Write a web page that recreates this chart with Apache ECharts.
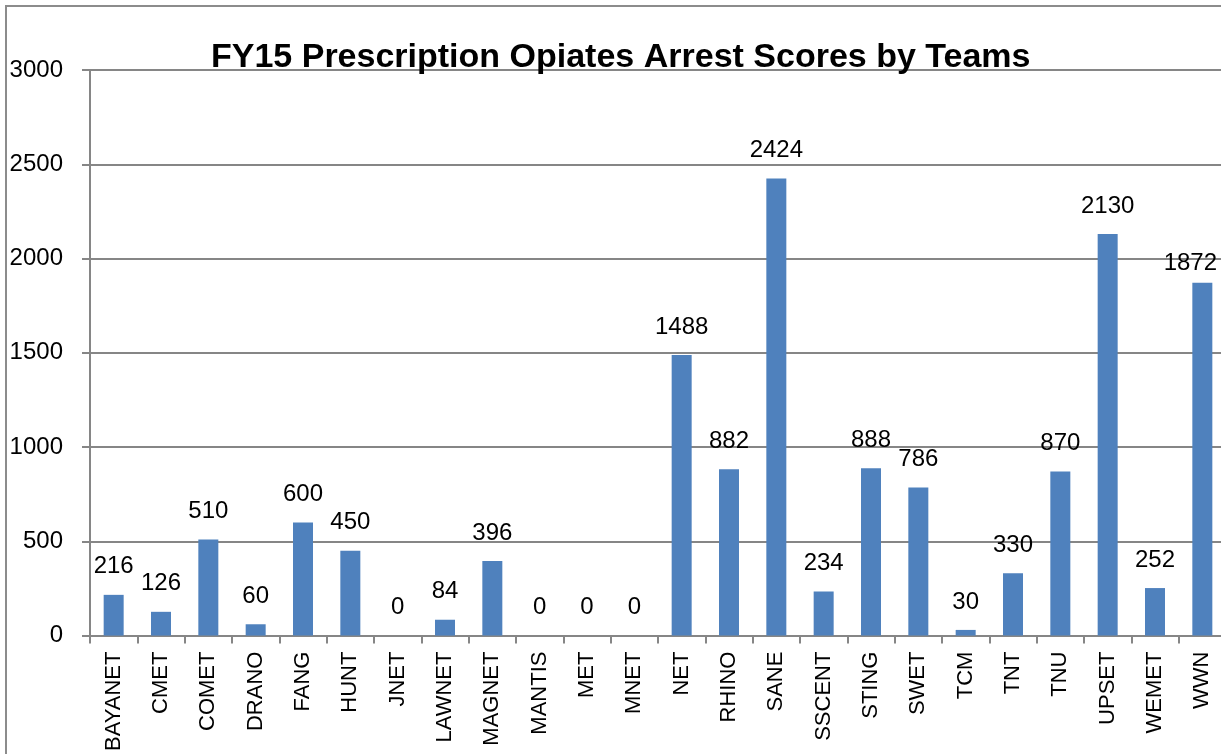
<!DOCTYPE html>
<html><head><meta charset="utf-8">
<script src="https://cdn.jsdelivr.net/npm/echarts@6/dist/echarts.min.js"></script>
<style>html,body{margin:0;padding:0;background:#fff;overflow:hidden;width:1221px;height:754px}#c{width:1240px;height:754px}</style>
</head><body><div id="c"></div>
<script>
const categories = ["BAYANET","CMET","COMET","DRANO","FANG","HUNT","JNET","LAWNET","MAGNET","MANTIS","MET","MNET","NET","RHINO","SANE","SSCENT","STING","SWET","TCM","TNT","TNU","UPSET","WEMET","WWN"];
const scores = [216,126,510,60,600,450,0,84,396,0,0,0,1488,882,2424,234,888,786,30,330,870,2130,252,1872];
const yTicks = [0,500,1000,1500,2000,2500,3000];
const titleText = "FY15 Prescription Opiates Arrest Scores by Teams";

const chart = echarts.init(document.getElementById('c'));
const font = "'Liberation Sans', Arial, sans-serif";
const barData = scores.map((v, i) => i === scores.length - 1
  ? { value: v, label: { offset: [-12, 9] } }
  : v);
chart.setOption({
  animation: false,
  backgroundColor: '#fff',
  title: {
    text: titleText, left: 206, top: 36,
    textStyle: { fontFamily: font, fontWeight: 'bold', fontSize: 34, color: '#000' }
  },
  graphic: [{
    type: 'polyline', silent: true,
    shape: { points: [[6, 760], [6, 6], [1250, 6]] },
    style: { stroke: '#8c8c8c', lineWidth: 2, fill: null }
  }],
  grid: { left: 90, top: 70, width: 1136, height: 566, containLabel: false },
  xAxis: {
    type: 'category', data: categories,
    axisLine: { lineStyle: { color: '#868686', width: 2 } },
    axisTick: { show: true, interval: 0, length: 8, lineStyle: { color: '#868686', width: 2 } },
    axisLabel: { interval: 0, rotate: 90, margin: 16, fontFamily: font, fontSize: 22, color: '#000' }
  },
  yAxis: {
    type: 'value', min: yTicks[0], max: yTicks[yTicks.length - 1], interval: 500,
    axisLine: { show: true, lineStyle: { color: '#868686', width: 2 } },
    axisTick: { show: true, length: 8, lineStyle: { color: '#868686', width: 2 } },
    splitLine: { show: true, lineStyle: { color: '#868686', width: 2 } },
    axisLabel: { margin: 27, fontFamily: font, fontSize: 24, color: '#000', formatter: v => String(v) }
  },
  series: [{
    type: 'bar', data: barData, barWidth: 20,
    itemStyle: { color: '#4F81BD' },
    label: { show: true, position: 'top', distance: 16, fontFamily: font, fontSize: 24, color: '#000' }
  }]
});
</script></body></html>
